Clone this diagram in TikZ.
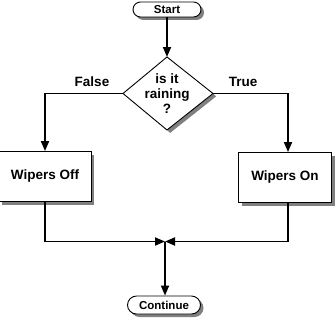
\documentclass[tikz,border=0pt]{standalone}
\usepackage{fontspec}
\setmainfont{Liberation Sans}
\usetikzlibrary{arrows.meta,shadows,positioning,calc}
\tikzset{
  big/.style={font=\bfseries\fontsize{13.5}{16}\selectfont},
  small/.style={font=\bfseries\fontsize{11.5}{13}\selectfont},
  shad/.style={drop shadow={shadow xshift=3pt,shadow yshift=-3pt,fill=gray,opacity=1}},
  term/.style={small,draw=black,line width=0.9pt,fill=white,rounded corners=7.5pt,inner sep=0pt,shad},
  procbox/.style={big,draw=black,line width=0.9pt,fill=white,inner sep=0pt,shad},
  flow/.style={line width=1.8pt,-{Triangle[length=10pt,width=8pt]}},
  lbl/.style={big,inner sep=0pt}
}
\begin{document}
\begin{tikzpicture}[x=1pt,y=-1pt]
\useasboundingbox (0,0) rectangle (336,321);
% start
\node[term,minimum width=68pt,minimum height=15pt] (start) at (167,9.5) {Start};
% decision diamond
\coordinate (dt) at (167,57);
\coordinate (dl) at (123,93.5);
\coordinate (dr) at (213,93.5);
\coordinate (db) at (167,130);
\fill[gray] (dr) -- ($(dr)+(3,3)$) -- ($(db)+(3,3)$) -- (db) -- cycle;
\filldraw[fill=white,draw=black,line width=0.9pt] (dt) -- (dr) -- (db) -- (dl) -- cycle;
\node[big,align=center,inner sep=0pt] (dec) at (167,93.5) {is it\\[-1pt]raining\\[-1pt]?};
% process boxes
\node[procbox,minimum width=92pt,minimum height=50pt] (woff) at (45,176.5) {Wipers Off};
\node[procbox,minimum width=93pt,minimum height=50pt] (won) at (285,177.5) {Wipers On};
% terminal continue
\node[term,minimum width=73pt,minimum height=18pt,rounded corners=9pt] (cont) at (164,305) {Continue};
% junction
\coordinate (j) at (165,241.5);
% connectors
\draw[flow] (start.south) -- (dt);
\draw[flow] (dl) -| (woff.north);
\draw[flow] (dr) -| ([xshift=3pt]won.north);
\node[lbl] (false) at (92,82) {False};
\node[lbl] (true) at (243,82) {True};
\draw[flow] (woff.south) |- (j);
\draw[flow] ([xshift=3pt]won.south) |- (j);
\draw[flow] (j) -- (j |- cont.north);
\end{tikzpicture}
\end{document}
